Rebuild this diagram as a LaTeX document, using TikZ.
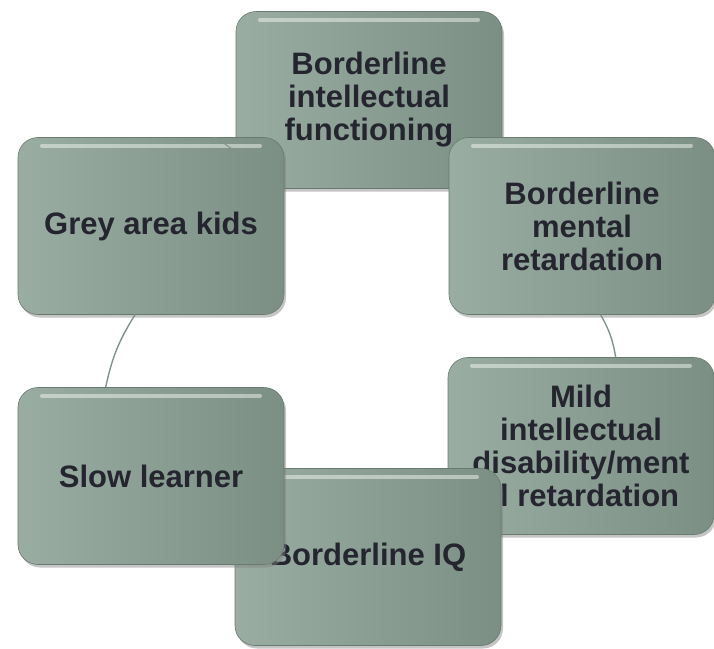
\documentclass[tikz,border=0pt]{standalone}
\usepackage{fontspec}
\setmainfont{Liberation Sans}
\usepackage{xcolor}
\usepackage{tikz}
\usetikzlibrary{calc, shadows}

\definecolor{cardleft}{HTML}{9AADA3}
\definecolor{cardright}{HTML}{7B8F85}
\definecolor{cardtext}{HTML}{25252F}
\definecolor{linkgrey}{HTML}{7F948A}

\begin{document}
\begin{tikzpicture}[x=1pt, y=-1pt, font=\bfseries\fontsize{31}{33}\selectfont]
		\tikzstyle{card} = [rectangle, rounded corners=20pt, draw=cardright!85!black, line width=0.6pt,
			left color=cardleft, right color=cardright, text=cardtext, align=center,
			minimum width=266pt, minimum height=177pt, inner sep=2pt,
			drop shadow={opacity=0.45, shadow xshift=2pt, shadow yshift=-3pt},
			path picture={\draw[white, opacity=0.45, line width=4pt, line cap=round] ([xshift=24pt, yshift=-8pt]path picture bounding box.north west) -- ([xshift=-24pt, yshift=-8pt]path picture bounding box.north east);}]
		\tikzstyle{link} = [line width=1.4pt, draw=linkgrey]
		
		\fill[white] (0,0) rectangle (714,648);
		\useasboundingbox (0,0) rectangle (714,648);
		
		\node[card]	at (369, 100)	(fun)	{Borderline\\intellectual\\functioning};
		\node[card]	at (582, 226)	(ment)	{Borderline\\mental\\retardation};
		\node[card]	at (581, 446)	(mild)	{Mild\\intellectual\\disability/ment\\al retardation};
		\node[card]	at (368, 557)	(iq)	{Borderline IQ};
		\node[card]	at (151, 476)	(slow)	{Slow learner};
		\node[card]	at (151, 226)	(grey)	{Grey area kids};
		
		\draw [link] ($(grey.south west)!0.44!(grey.south east)$) to[bend right=10] ($(slow.north west)!0.33!(slow.north east)$);
		\draw [link] ($(ment.south west)!0.57!(ment.south east)$) to[bend left=10] ($(mild.north west)!0.63!(mild.north east)$);
		\draw [link, line width=1pt] ($(grey.north west)!0.74!(grey.north east)$) -- ($(fun.north west)!0.79!(fun.south west)$);
	\end{tikzpicture}
\end{document}
